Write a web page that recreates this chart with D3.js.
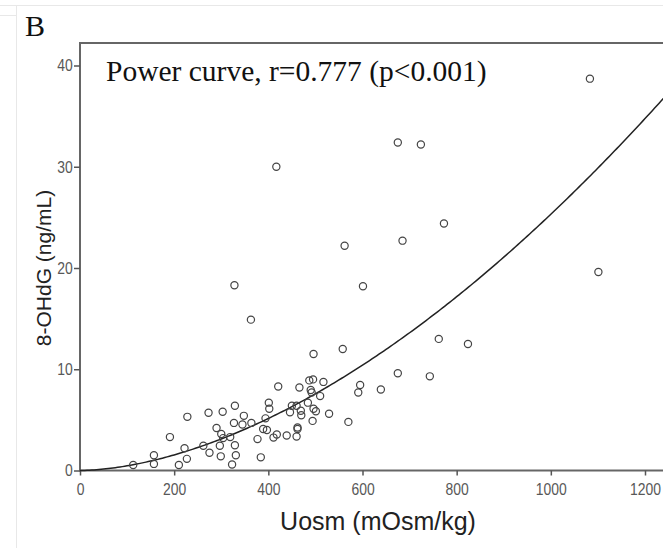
<!DOCTYPE html>
<html>
<head>
<meta charset="utf-8">
<script src="https://cdn.jsdelivr.net/npm/d3@7"></script>
<style>
  body { margin: 0; background: #fff; }
  svg { display: block; }
</style>
</head>
<body>
<div id="chart"></div>
<script>
var width = 663, height = 548;
var plot = { left: 80, top: 43, bottom: 470.5, right: 700 };

// Uosm (mOsm/kg) and 8-OHdG (ng/mL), one entry per subject
var uosm = [113, 157, 157, 210, 227, 222, 191, 228, 262, 275, 273, 290, 297, 299, 300, 303, 304, 319, 323, 329,
            327, 329, 331, 348, 345, 364, 384, 377, 394, 389, 397, 401, 402, 411, 418, 421, 439, 446, 450, 460,
            462, 462, 460, 466, 469, 470, 484, 487, 495, 490, 492, 496, 496, 501, 494, 510, 517, 529, 558, 570,
            595, 591, 639, 675, 675, 724, 773, 685, 562, 601, 1101, 417, 1083, 328, 363, 824, 762, 743];
var ohdg = [0.55, 0.65, 1.5, 0.55, 1.15, 2.2, 3.3, 5.3, 2.45, 1.75, 5.7, 4.2, 2.45, 1.4, 3.6, 5.8, 3.2, 3.3, 0.6, 6.4,
            4.7, 2.5, 1.5, 5.4, 4.55, 4.7, 1.3, 3.1, 5.15, 4.1, 4.0, 6.7, 6.1, 3.25, 3.55, 8.3, 3.45, 5.75, 6.4, 6.4,
            4.25, 4.1, 3.35, 8.2, 5.9, 5.45, 6.7, 8.9, 9.0, 7.95, 7.7, 11.5, 6.1, 5.85, 4.9, 7.35, 8.75, 5.6, 12.0, 4.8,
            8.45, 7.7, 8.0, 9.6, 32.4, 32.2, 24.4, 22.7, 22.2, 18.2, 19.6, 30.0, 38.7, 18.3, 14.9, 12.5, 13.0, 9.3];

var xTicks = [0, 200, 400, 600, 800, 1000, 1200];
var yTicks = [0, 10, 20, 30, 40];

// power fit y = a * x^b
var fitA = 1.525e-4, fitB = 1.74;

var data = uosm.map(function (d, i) { return { x: d, y: ohdg[i] }; });

var svg = d3.select("#chart").append("svg")
   .attr("width", width)
   .attr("height", height);

// light outer frame of the figure
svg.append("line").attr("x1", 0).attr("x2", width).attr("y1", 5.5).attr("y2", 5.5)
   .style("stroke", "#e8e8e8");
svg.append("line").attr("x1", 16.5).attr("x2", 16.5).attr("y1", 5.5).attr("y2", height)
   .style("stroke", "#e8e8e8");
svg.append("line").attr("x1", 0).attr("x2", 16.5).attr("y1", 15.5).attr("y2", 15.5)
   .style("stroke", "#e8e8e8");

var x = d3.scaleLinear().domain([0, 1200]).range([plot.left, 645]);
var y = d3.scaleLinear().domain([0, 40]).range([plot.bottom, 65.5]);

// panel letter
svg.append("text")
   .attr("x", 25).attr("y", 36)
   .style("font-family", "'Liberation Serif', 'Times New Roman', serif")
   .style("font-size", "30px")
   .style("fill", "#111")
   .text("B");

// plot frame
svg.append("rect")
   .attr("x", plot.left).attr("y", plot.top)
   .attr("width", plot.right - plot.left).attr("height", plot.bottom - plot.top)
   .style("fill", "none").style("stroke", "#666").style("stroke-width", 2);

// axes
var xAxis = svg.append("g")
   .attr("transform", "translate(0," + plot.bottom + ")")
   .call(d3.axisBottom(x).tickValues(xTicks).tickSize(5).tickPadding(7).tickFormat(d3.format("d")));
var yAxis = svg.append("g")
   .attr("transform", "translate(" + plot.left + ",0)")
   .call(d3.axisLeft(y).tickValues(yTicks).tickSize(6).tickPadding(3).tickFormat(d3.format("d")));

[xAxis, yAxis].forEach(function (g) {
   g.select(".domain").remove();
   g.selectAll(".tick line").style("stroke", "#555").style("stroke-width", 1.5);
   g.selectAll(".tick text")
      .style("font-family", "'Liberation Sans', Arial, sans-serif")
      .style("font-size", "17px")
      .style("fill", "#585858")
      .attr("transform", "scale(0.82,1)");
});

// fitted power curve
var curvePts = d3.range(0, 1301, 5).map(function (v) { return { x: v, y: fitA * Math.pow(v, fitB) }; });
svg.append("path")
   .datum(curvePts)
   .attr("d", d3.line().x(function (d) { return x(d.x); }).y(function (d) { return y(d.y); }))
   .style("fill", "none")
   .style("stroke", "#222")
   .style("stroke-width", 1.5);

// points
svg.selectAll(".pt")
   .data(data)
   .enter().append("circle")
   .attr("class", "pt")
   .attr("cx", function (d) { return x(d.x); })
   .attr("cy", function (d) { return y(d.y); })
   .attr("r", 3.6)
   .style("fill", "none")
   .style("stroke", "#444")
   .style("stroke-width", 1.2);

// annotation
svg.append("text")
   .attr("x", 106).attr("y", 81)
   .style("font-family", "'Liberation Serif', 'Times New Roman', serif")
   .style("font-size", "29.5px")
   .style("fill", "#111")
   .text("Power curve, r=0.777 (p<0.001)");

// axis titles
svg.append("text")
   .attr("x", 378).attr("y", 530)
   .attr("text-anchor", "middle")
   .style("font-family", "'Liberation Sans', Arial, sans-serif")
   .style("font-size", "25px")
   .style("fill", "#222")
   .text("Uosm (mOsm/kg)");

svg.append("text")
   .attr("transform", "translate(51,268) rotate(-90)")
   .attr("text-anchor", "middle")
   .style("font-family", "'Liberation Sans', Arial, sans-serif")
   .style("font-size", "21px")
   .style("fill", "#222")
   .text("8-OHdG (ng/mL)");
</script>
</body>
</html>
